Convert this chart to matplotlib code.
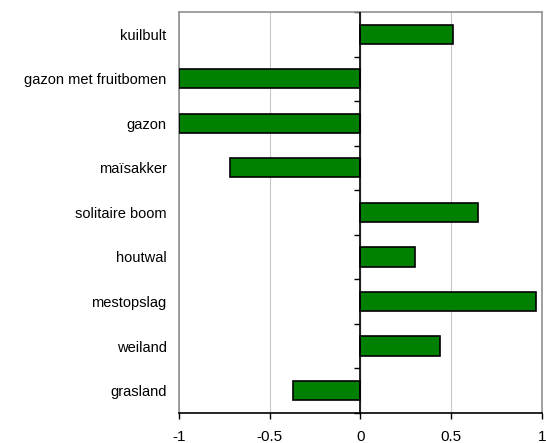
import numpy as np
import matplotlib.pyplot as plt

plt.rcParams['font.family'] = ['Liberation Sans', 'DejaVu Sans']

categories = ['kuilbult', 'gazon met fruitbomen', 'gazon', 'maïsakker', 'solitaire boom',
              'houtwal', 'mestopslag', 'weiland', 'grasland']
values = [0.51, -1.0, -1.0, -0.72, 0.65, 0.30, 0.97, 0.44, -0.37]
xticks = [-1, -0.5, 0, 0.5, 1]
xticklabels = ['-1', '-0.5', '0', '0.5', '1']

n = len(categories)
y = np.arange(n)[::-1]

fig = plt.figure(figsize=(5.46, 4.43), dpi=100)
ax = fig.add_axes([0.328, 0.068, 0.664, 0.905])

ax.barh(y, values, height=0.43, color='#008000', edgecolor='black', linewidth=1.2, zorder=3)
ax.axvline(0, color='black', linewidth=1.2, zorder=4)

ax.set_xlim(-1, 1)
ax.set_ylim(-0.5, n - 0.5)
ax.set_xticks(xticks)
ax.set_xticklabels(xticklabels, fontsize=11)
ax.grid(axis='x', color='#c8c8c8', linewidth=0.8, zorder=0)
ax.tick_params(axis='x', direction='out', length=4, width=1, color='black', pad=8)

ax.set_yticks(y)
ax.set_yticklabels(categories, fontsize=10.5)
ax.tick_params(axis='y', length=0, pad=9)

for side in ['left', 'right', 'top']:
    ax.spines[side].set_color('#909090')
    ax.spines[side].set_linewidth(1.2)
ax.spines['bottom'].set_color('black')
ax.spines['bottom'].set_linewidth(1.2)

# ticks between categories on the zero line, pointing left
zax = ax.secondary_yaxis(0.5)
zax.set_yticks(np.arange(-0.5, n, 1.0))
zax.set_yticklabels([])
zax.tick_params(direction='in', length=4, width=1, color='black')
zax.spines['left'].set_linewidth(1.2)
zax.spines['left'].set_color('black')

plt.savefig('out.png', dpi=100)
